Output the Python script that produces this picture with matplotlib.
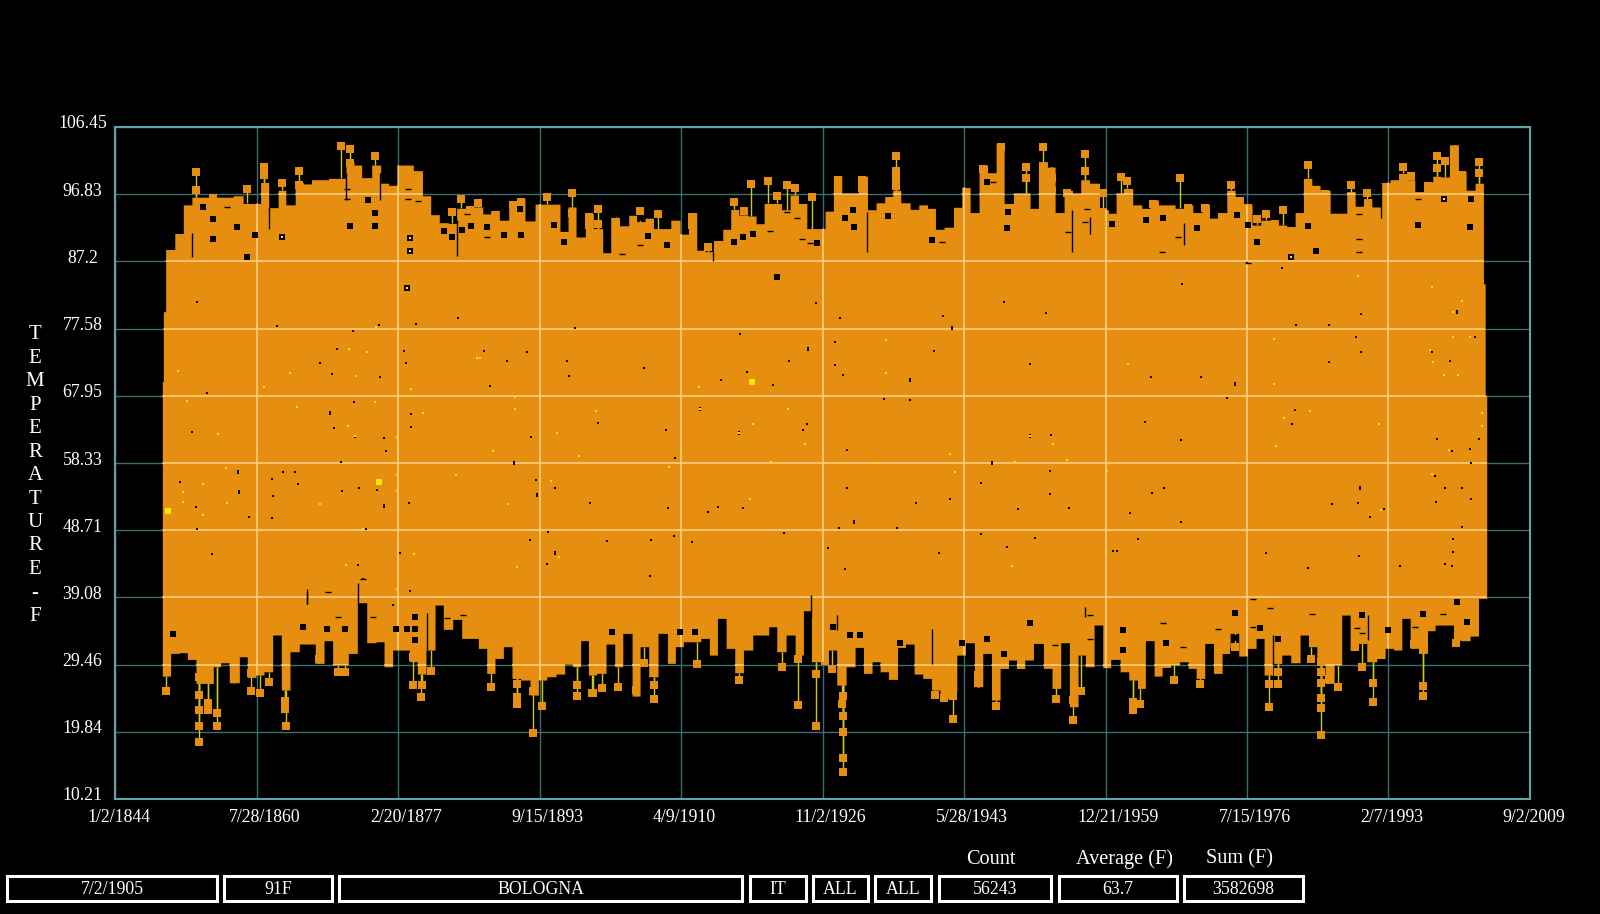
###Bologna daily temperature record, black screen style
import numpy as np
import matplotlib
matplotlib.use("Agg")
import matplotlib.pyplot as plt
from matplotlib.patches import Rectangle
from matplotlib.transforms import ScaledTranslation

plt.rcParams['font.family']=['Liberation Serif','DejaVu Serif']

x_ticks=[1844.0,1860.57,1877.14,1893.71,1910.27,1926.84,1943.4,1959.97,1976.54,1993.1,2009.67]
x_labels=["1/2/1844","7/28/1860","2/20/1877","9/15/1893","4/9/1910","11/2/1926","5/28/1943","12/21/1959","7/15/1976","2/7/1993","9/2/2009"]
y_ticks=[10.21,19.84,29.46,39.08,48.71,58.33,67.95,77.58,87.2,96.83,106.45]
y_labels=["10.21","19.84","29.46","39.08","48.71","58.33","67.95","77.58","87.2","96.83","106.45"]

#top edge of the orange band, each value holds until the next year
upper_years=[1849.54,1849.66,1849.93,1851.0,1852.0,1853.0,1854.9,1856.1,1857.85,1859.0,1861.05,1862.0,1863.1,1864.0,1865.1,1866.05,1867.0,1869.0,1871.05,1871.98,1872.88,1874.05,1875.1,1876.04,1877.06,1878.93,1880.0,1880.96,1881.97,1883.03,1884.0,1885.02,1887.05,1887.98,1889.0,1890.1,1891.03,1892.0,1893.18,1895.0,1896.1,1897.04,1897.98,1899.07,1900.01,1901.1,1902.04,1903.06,1904.15,1905.09,1906.06,1907.04,1909.07,1910.16,1911.14,1912.11,1913.09,1914.06,1915.16,1916.09,1917.03,1918.16,1919.06,1920.0,1922.03,1923.04,1924.02,1925.0,1927.14,1928.11,1929.09,1931.04,1932.1,1933.11,1934.12,1935.06,1936.0,1937.09,1938.11,1939.12,1940.06,1941.07,1942.17,1943.14,1944.12,1945.17,1946.15,1947.16,1948.1,1949.19,1951.14,1952.12,1953.17,1954.07,1955.12,1956.1,1957.07,1958.09,1959.26,1960.31,1961.21,1962.07,1963.16,1964.21,1965.19,1966.17,1968.12,1969.17,1970.19,1971.24,1972.14,1973.07,1974.17,1975.14,1976.12,1977.13,1978.15,1979.24,1980.22,1981.19,1982.17,1983.14,1984.12,1985.09,1986.27,1988.22,1989.2,1990.17,1991.15,1992.2,1993.29,1994.27,1995.24,1996.18,1997.2,1998.29,1999.23,2000.24,2001.29,2002.19,2003.24,2004.22,2004.42]
upper_temp=[70,80,88.9,91.2,95.3,96.4,96.4,96.4,96.6,95.5,98.5,94.9,97.4,95.3,98.5,98.3,98.9,99.1,101.5,101.0,99.2,101.0,98.4,98.1,101.0,100.2,96.6,93.9,92.75,92.65,94.8,95.0,94.0,94.5,93.1,95.9,96.2,93.0,95.4,95.4,91.5,95.0,90.7,94.0,91.9,88.45,93.5,92.3,93.8,92.9,93.4,91.9,93.1,91.1,94.2,88.8,88.6,90.2,91.8,94.65,93.85,93.7,92.6,95.5,94.6,96.7,95.5,91.9,94.4,99.4,96.95,99.4,94.6,95.6,96.5,97.4,95.6,94.65,95.3,94.8,91.8,92.1,94.95,97.8,94.2,101.0,99.9,104.1,95.5,96.95,94.8,101.5,100.7,94.2,97.4,96.95,98.9,98.4,94.6,94.1,96.95,97.65,95.3,94.8,96.0,95.3,94.8,95.3,94.2,95.4,93.4,94.2,97.4,96.5,95.3,92.4,93.1,93.2,92.4,92.2,94.2,99.1,98.1,97.4,94.1,97.2,95.1,96.2,95.0,98.5,98.9,99.8,98.9,97.2,98.6,99.4,99.3,103.9,100.05,97.4,98.4,84,68]

#bottom edge of the band
lower_years=[1849.54,1850.51,1851.53,1852.47,1853.48,1854.42,1855.51,1856.37,1857.38,1858.56,1859.49,1860.51,1861.44,1862.46,1863.47,1864.49,1865.58,1867.45,1868.47,1869.48,1871.32,1872.37,1873.47,1874.56,1875.5,1876.51,1878.46,1879.4,1880.41,1881.47,1882.44,1883.54,1884.59,1886.54,1887.52,1888.49,1889.47,1890.48,1891.5,1892.59,1893.57,1894.54,1895.64,1896.65,1897.59,1898.52,1899.43,1900.4,1901.49,1902.51,1903.45,1904.54,1905.48,1906.49,1907.58,1908.68,1909.61,1910.55,1912.58,1913.59,1914.53,1915.55,1916.56,1917.58,1918.67,1920.54,1921.48,1922.57,1923.63,1924.6,1925.54,1927.53,1928.5,1929.6,1930.65,1931.63,1932.64,1933.58,1934.55,1935.61,1936.55,1937.56,1938.57,1939.59,1940.6,1941.58,1942.56,1943.57,1944.62,1945.6,1946.62,1947.63,1948.61,1949.58,1950.52,1951.53,1952.7,1953.71,1954.73,1955.74,1956.76,1957.62,1958.63,1959.65,1960.58,1961.68,1962.69,1963.71,1964.64,1965.66,1966.6,1967.61,1968.63,1969.64,1970.58,1971.59,1972.61,1973.62,1974.56,1975.57,1976.59,1977.6,1978.54,1979.55,1980.61,1981.66,1982.75,1983.73,1984.71,1985.68,1986.74,1987.63,1988.61,1989.59,1990.56,1991.73,1992.71,1993.68,1994.66,1995.64,1996.61,1997.67,1998.56,2000.71,2001.57,2002.66,2003.64]
lower_temp=[27.81,31.06,31.16,30.2,26.76,26.76,29.15,29.72,26.86,30.58,27.62,27.96,28.43,33.69,25.81,31.3,32.4,29.63,32.88,29.39,31.06,38.32,32.59,32.73,29.15,31.54,29.87,28.1,31.54,37.99,34.5,35.93,33.21,31.78,28.2,30.34,32.02,27.48,27.24,25.09,27.24,27.72,28.1,29.53,29.15,32.88,27.96,28.2,32.4,29.15,33.93,24.95,32.02,27.72,33.93,29.63,32.02,32.73,33.21,30.82,36.08,31.78,28.29,31.54,33.69,34.88,31.3,33.69,30.82,37.17,29.87,31.54,26.52,29.15,31.92,28.2,29.87,28.43,27.34,31.92,32.4,28.1,27.48,25.81,24.61,25.57,30.82,32.59,26.29,31.06,24.38,28.91,30.11,28.91,30.11,32.49,28.91,26.05,32.59,23.42,30.82,29.15,35.12,29.01,30.2,28.43,27.24,26.05,32.88,27.81,29.05,29.39,29.87,28.91,27.48,32.49,28.2,31.92,33.93,30.68,31.78,33.21,27.96,29.63,30.82,29.72,33.69,32.02,29.63,26.76,29.39,36.55,31.54,32.49,29.87,30.34,31.78,31.54,36.08,31.78,31.06,34.31,35.12,32.97,32.88,33.54,38.94]
band_end=2004.6

#isolated daily highs above the band
high_years=[1853.48,1853.48,1855.51,1855.51,1859.49,1861.48,1861.48,1863.51,1865.5,1865.5,1870.5,1871.51,1871.51,1874.48,1884.51,1883.46,1886.54,1885.57,1894.54,1897.51,1897.51,1899.54,1891.5,1890.56,1899.5,1899.5,1900.6,1900.6,1902.63,1905.5,1907.54,1911.56,1911.56,1913.48,1916.48,1917.65,1918.51,1920.5,1922.65,1923.59,1921.56,1925.62,1928.66,1931.51,1931.51,1935.49,1935.49,1935.49,1935.49,1945.68,1947.71,1950.64,1950.64,1952.7,1953.56,1953.72,1953.72,1955.51,1957.58,1957.58,1961.76,1962.54,1959.65,1959.65,1965.58,1968.7,1969.6,1971.63,1974.64,1976.7,1977.68,1978.73,1979.75,1980.72,1983.65,1985.68,1988.69,1990.64,1994.78,1995.71,1997.7,1998.76,1998.76,1999.73,2000.79,2001.68,2003.75,2003.75]
high_temp=[99.96,97.4,96.25,95.04,97.5,100.77,99.58,98.4,100.15,98.15,103.73,103.25,101.25,102.3,96.09,94.28,95.6,94.56,96.47,96.95,94.08,93.04,95.76,95.28,93.51,92.42,94.75,92.56,92.89,94.42,93.94,93.61,92.42,89.21,95.71,94.42,98.24,98.67,98.19,97.72,96.57,96.38,98.86,98.86,97.67,102.3,100.15,99.1,98.0,100.44,103.64,100.77,99.1,103.64,100.05,99.2,97.33,96.95,102.54,100.15,99.34,98.72,96.95,94.33,95.42,99.2,94.8,94.9,98.19,94.8,93.28,93.94,92.18,94.56,101.0,96.86,98.19,96.95,100.77,99.48,98.0,102.35,100.53,101.63,103.16,99.58,101.49,99.8]

#isolated daily lows below the band
low_years=[1850.01,1853.87,1853.87,1853.87,1853.87,1853.87,1854.93,1854.93,1855.9,1855.9,1857.97,1859.92,1859.92,1860.98,1862.03,1863.94,1863.94,1864.06,1867.92,1870.11,1870.93,1878.93,1878.93,1879.91,1879.83,1881.04,1888.02,1891.11,1891.11,1891.11,1892.98,1892.98,1894.03,1898.06,1898.06,1899.93,1899.89,1900.99,1902.86,1905.01,1907.12,1907.12,1905.94,1912.11,1917.03,1922.1,1924.02,1924.02,1926.12,1926.12,1928.0,1927.14,1929.21,1929.21,1929.21,1929.21,1929.21,1929.13,1940.06,1942.09,1942.09,1941.11,1945.09,1945.09,1947.12,1950.09,1954.22,1956.22,1956.22,1957.07,1963.16,1963.16,1964.02,1968.0,1971.08,1973.15,1974.05,1975.1,1979.09,1979.09,1979.09,1980.14,1980.14,1984.08,1985.18,1985.18,1985.18,1985.18,1985.18,1985.18,1986.19,1987.17,1990.05,1991.26,1991.26,1991.26,1989.16,1992.2,1996.1,1997.2,1997.2,1997.2,2001.06]
low_temp=[25.62,27.72,25.09,22.94,20.65,18.41,23.9,22.94,22.47,20.65,27.48,28.29,25.62,25.43,26.95,24.28,23.04,20.65,30.2,28.39,28.39,30.49,26.57,26.57,24.8,28.58,26.29,26.67,24.76,23.8,25.71,19.7,23.52,26.52,24.95,25.33,25.33,26.05,26.29,25.81,24.47,26.57,29.72,29.49,27.24,29.05,23.66,30.25,20.65,28.05,28.77,30.01,24.95,22.13,19.84,16.11,14.11,23.8,25.14,24.95,21.65,24.66,27.96,26.76,23.52,29.39,24.47,21.51,24.38,25.66,24.14,22.94,23.8,27.24,26.62,28.91,31.54,32.02,28.58,26.62,23.32,28.43,26.62,30.2,29.87,28.43,26.76,24.61,23.28,19.36,27.34,26.29,29.05,31.54,26.86,24.14,32.02,30.82,32.35,31.78,26.43,24.95,32.49]

#missing days inside the band
gap_years=[1887.21,1892.28,1889.86,1896.97,1897.2,1887.87,1897.9,1905.94,1917.18,1926.05,1928.93,1940.99,1928.27,1939.9,1922.92,1928.27,1929.25,1917.97,1914.92,1921.09,1934.09,1937.09,1900.52,1892.67,1908.52,1909.61,1924.56,1925.07,1929.75,1893.34,1895.48,1899.62,1908.75,1913.44,1914.57,1917.57,1929.75,1937.75,1941.78,1945.41,1894.7,1892.59,1901.65,1906.76,1909.42,1911.56,1922.38,1928.82,1935.53,1927.49,1929.48,1940.45,1894.55,1906.61,1945.41,1953.02,1951.14,1965.35,1971.2,1974.25,1982.33,1986.19,1989.94,1989.28,1989.94,1986.08,2003.25,1998.18,2000.25,1982.1,1981.78,1964.61,1968.82,1953.64,1998.8,2003.68,2002.67,2000.52,2002.78,1953.45,1953.45,1955.71,1949.7,1965.47,1966.8,1962.81,1968.82,1989.55,1986.47,1992.63,1990.88,1999.66,2001.65,2002.74,1998.64,2001.65,1998.53,1951.69,1948.49,1960.82,1961.37,1963.75,1978.74,1983.66,1989.67,1994.47,2000.64,2000.6,1999.74,2000.56,1948.1,1853.56,1862.93,1871.83,1874.95,1879.24,1884.12,1870.03,1877.84,1868.0,1878.07,1875.03,1869.45,1854.81,1871.98,1880.02,1878.66,1878.66,1869.64,1852.97,1875.5,1872.06,1875.73,1851.61,1865.42,1872.53,1870.54,1862.46,1853.48,1878.46,1859.65,1862.34,1853.56,1873.39,1855.32,1863.63,1865.07,1874.64,1870.42,1862.34,1872.49,1873.07,1878.54,1876.59,1877.37,1968.9,1976.51,1980.61]
gap_temp=[74.4,74.26,72.98,72.98,70.83,69.35,77.7,71.88,76.8,81.19,79.04,79.38,75.7,74.4,72.88,72.35,70.97,71.4,70.25,69.49,67.48,67.34,64.0,62.09,63.0,59.03,63.04,63.85,60.18,55.88,54.78,52.63,51.92,51.34,52.06,51.82,54.69,52.63,53.2,55.4,48.43,47.28,47.19,47.33,47.86,47.04,48.33,49.0,48.95,46.09,43.08,45.37,43.8,42.13,48.14,79.76,72.5,70.59,70.59,67.63,78.09,78.09,79.66,76.41,74.27,72.78,76.32,74.22,72.88,65.86,63.98,64.19,61.56,62.37,61.75,61.75,60.27,60.08,58.31,57.12,53.83,51.82,51.68,53.97,54.69,51.1,49.86,52.63,52.39,51.77,50.63,54.69,54.69,53.16,52.68,49.15,56.45,47.62,46.33,45.75,45.75,47.38,45.37,43.27,45.04,43.51,45.52,47.38,43.8,43.6,81.33,81.38,77.99,77.23,78.09,78.18,79.14,74.6,74.36,72.69,72.6,70.69,71.07,68.39,67.1,65.43,65.39,63.52,63.28,62.71,61.85,62.0,60.08,55.64,55.36,54.69,54.31,53.64,51.97,52.54,50.63,50.44,48.81,48.91,45.23,57.08,57.08,54.45,58.41,56.03,43.66,41.65,40.03,37.97,45.38,83.91,87.02,86.2]

#short dashes in the rough top and bottom of the band
dash_years=[1871.12,1871.12,1878.35,1878.35,1879.5,1857.07,1885.18,1887.52,1903.33,1905.48,1920.7,1922.65,1923.82,1924.41,1925.38,1946.85,1955.63,1940.8,1957.77,1957.58,1968.5,1966.56,1976.7,1989.7,1989.7,1989.7,1996.6,1873.07,1868.98,1882.83,1884.78,1873.07,1874.25,1870.15,1954.07,1958.16,1958.16,1966.75,1969.09,1973.19,1979.24,1977.29,1977.29,1984.12,1999.54,1989.39,1989.98,1996.22]
dash_temp=[97.52,96.09,96.09,97.52,95.9,95.04,94.0,90.74,88.26,89.55,91.56,94.23,93.47,90.36,89.79,98.62,91.46,90.03,94.7,92.8,90.74,88.59,87.02,90.36,88.59,94.0,96.1,41.7,39.9,36.2,36.55,36.3,36.3,36.3,32.25,36.55,33.1,35.36,32.02,34.5,37.5,38.85,34.9,36.65,36.7,34.64,33.93,34.9]

#wider runs of missing days
block_years=[1855.51,1860.39,1863.51,1858.24,1855.51,1859.49,1874.44,1874.44,1878.54,1878.54,1878.15,1871.51,1873.66,1854.34,1883.42,1891.5,1889.55,1896.57,1884.59,1885.68,1882.52,1887.52,1891.42,1895.4,1908.6,1929.48,1930.45,1930.53,1934.55,1948.41,1946.15,1921.48,1916.48,1917.58,1918.75,1906.45,1939.63,1926.16,1905.48,1948.6,1960.7,1964.68,1966.75,1970.66,1975.34,1976.7,1977.68,1981.66,1984.63,1983.65,2002.66,2002.74,1996.61,1999.62,1930.53,1937.09,1893.45,1942.05,1890.68,1917.11,1912.5,1946.65,1925.15,1895.52,1975.11,2001.18,1951.1,1989.71,1858.44,1858.48,1875.5,1869.17,1850.83,1865.97,1876.9,1878.15,1879.13,1879.13,1879.13,1868.78,1870.93,1902.16,1910.16,1911.92,1930.07,1931.24,1928.11,1935.92,1943.14,1946.07,1951.14,1948.1,1962.07,1962.07,1967.06,1975.14,1975.14,1978.07,1980.22,1989.98,2001.1,2002.27,1997.2,1993.1]
block_temp=[90.36,91.0,90.74,92.08,93.27,87.78,94.18,92.27,90.55,88.64,83.34,92.27,96.0,95.04,90.65,90.93,90.93,89.93,91.7,92.27,91.5,92.2,94.66,92.41,89.55,93.47,94.56,92.17,93.7,91.94,98.62,85.01,89.93,90.74,91.13,90.84,90.27,89.88,93.47,94.33,92.56,93.13,93.37,91.94,93.85,92.42,89.93,87.78,88.74,92.27,92.08,96.09,92.42,96.14,49.91,70.2,53.73,77.6,58.27,62.66,66.0,58.36,74.65,45.37,69.68,79.9,62.23,54.73,56.98,54.12,52.16,65.43,33.9,34.9,34.6,34.6,36.3,34.6,33.0,34.6,34.6,34.17,34.17,34.17,33.69,33.69,34.79,32.6,32.6,33.07,35.45,30.92,34.4,31.54,32.6,36.8,33.2,34.64,33.07,36.55,38.46,35.6,36.65,34.4]

#long thin gaps: year, warm end, cold end
slit_years=[1871.05,1875.03,1862.03,1884.0,1853.0,1932.1,1914.06,1956.1,1969.17,1992.2,1958.16,1872.49,1880.49,1866.44,1925.54,1928.5,1939.63,1957.58,1979.63,1990.75,1866.44]
slit_high=[99.8,99.8,94.95,93.1,91.2,94.3,88.6,94.6,92.65,98.5,93.6,41.09,36.8,39.9,39.4,36.55,34.6,37.75,33.7,36.55,40.3]
slit_low=[96.0,96.0,91.8,88.0,87.9,88.6,87.2,88.6,89.55,93.4,91.1,38.2,31.5,38.2,36.3,34.4,29.6,36.3,29.6,33.0,38.2]

#yellow days left showing through the gaps
yellow_years=[1918.59,1912.42,1890.8,1890.8,1900.32,1895.8,1888.3,1898.29,1908.83,1920.78,1924.8,1941.77,1918.75,1922.81,1934.28,1895.01,1890.06,1918.36,1891.03,1896.03,1934.28,1933.27,1886.74,1942.36,1962.66,1979.71,2000.64,2001.73,2000.6,2002.63,1979.64,1999.62,2001.26,1997.98,1998.37,1983.93,1980.85,1991.97,1979.91,1951.1,1953.87,1955.44,1949.43,1960.12,1998.18,2000.17,1992.24,1949.0,2004.03,2004.03,1874.56,1873.46,1871.4,1872.22,1864.49,1851.41,1861.44,1878.62,1852.47,1874.48,1865.27,1880.02,1876.98,1871.28,1872.14,1856.1,1857.0,1876.98,1876.98,1851.92,1851.92,1854.26,1854.26,1857.07,1868.0,1873.0,1879.01,1871.0,1876.98,1883.92,1886.34,1863.51,1878.54,1878.54,1878.15,1981.66,1989.59,1998.17,1999.62,1917.11,1912.5]
yellow_temp=[67.96,69.25,67.82,66.0,65.76,62.56,60.08,59.37,57.79,58.46,61.04,59.6,63.95,66.05,75.89,55.78,52.39,53.2,43.4,44.9,71.26,58.36,73.3,56.98,72.55,76.03,79.9,81.57,76.32,76.32,69.59,70.97,70.92,74.5,72.74,65.76,64.76,63.95,60.7,62.23,60.99,58.7,58.5,57.12,56.69,60.13,51.58,43.56,65.43,63.66,77.85,74.27,74.6,70.78,71.16,71.55,69.25,68.87,67.25,67.06,66.29,65.43,62.0,63.62,62.19,62.42,57.55,56.6,54.31,54.21,52.68,55.26,50.87,52.54,52.44,48.91,45.28,43.66,40.22,56.65,73.31,90.74,90.55,88.64,83.34,87.78,85.11,83.48,96.14,62.66,66.0]
yellow_big_years=[1918.59,1874.95,1850.16]
yellow_big_temp=[70.0,55.55,51.49]

#row of read out boxes under the chart
box_texts=["7/2/1905","91F","BOLOGNA","IT","ALL","ALL","56243","63.7","3582698"]
box_left=[7,224,339,750,812.5,875,938.5,1058.5,1184]
box_right=[217,332,742,805.5,868,931,1051,1176.5,1302.5]
head_texts=["Count","Average (F)","Sum (F)"]
head_x=[991,1125,1240]

W,H=1600,914
ORANGE='#E68E10'
fig=plt.figure(figsize=(W/100,H/100),dpi=100,facecolor='black')
ax=fig.add_axes([115/W,1-799/H,(1530-115)/W,(799-127)/H],facecolor='black')
ax.set_xlim(1844,2009.67)
ax.set_ylim(10.21,106.45)

def step_value(years,temps,x):
    i=np.searchsorted(years,x,side='right')-1
    return np.asarray(temps)[np.clip(i,0,len(temps)-1)]

#stems first so that the band and the squares sit on top
ax.vlines(high_years,high_temp,step_value(upper_years,upper_temp,high_years),color='#C8C81E',lw=1.0,zorder=2)
ax.vlines(low_years,low_temp,step_value(lower_years,lower_temp,low_years),color='#C8C81E',lw=1.0,zorder=2)

xs=np.union1d(np.union1d(upper_years,lower_years),[band_end])
body=ax.fill_between(xs,step_value(lower_years,lower_temp,xs),step_value(upper_years,upper_temp,xs),step='post',color=ORANGE,lw=0,zorder=3)

ax.plot(high_years,high_temp,'s',color=ORANGE,ms=6.1,mew=0,zorder=4)
ax.plot(low_years,low_temp,'s',color=ORANGE,ms=6.1,mew=0,zorder=4)

#grid: dim teal on black, pale where it crosses the band
ax.set_xticks(x_ticks,x_labels)
ax.set_yticks(y_ticks,y_labels)
for t in x_ticks:
    ax.axvline(t,color='#3F6E70',lw=1.0,zorder=1)
    l=ax.axvline(t,color='#FFD38A',lw=1.1,zorder=5)
    l.set_clip_path(body.get_paths()[0],body.get_transform())
for t in y_ticks:
    ax.axhline(t,color='#3F6E70',lw=1.0,zorder=1)
    l=ax.axhline(t,color='#FFD38A',lw=1.1,zorder=5)
    l.set_clip_path(body.get_paths()[0],body.get_transform())

ax.vlines(slit_years,slit_low,slit_high,color='black',lw=1.0,zorder=6)
ax.plot(gap_years,gap_temp,'s',color='black',ms=1.7,mew=0,zorder=6)
ax.plot(dash_years,dash_temp,'_',color='black',ms=4.5,mew=1.0,zorder=6)

#blocks are wide in the rough edges of the band, tall and thin in the middle
block_t=np.array(block_temp)
block_y=np.array(block_years)
rough=(block_t>80)|(block_t<40)
tall=[(-0.5,-1),(0.5,-1),(0.5,1),(-0.5,1)]
ax.plot(block_y[rough],block_t[rough],marker='s',ls='none',color='black',ms=4.6,mew=0,zorder=6)
ax.plot(block_y[~rough],block_t[~rough],marker=tall,ls='none',color='black',ms=3.0,mew=0,zorder=6)

ax.plot(yellow_years,yellow_temp,'s',color='#FFE800',ms=1.7,mew=0,zorder=7)
ax.plot(yellow_big_years,yellow_big_temp,'s',color='#FFE800',ms=4.0,mew=0,zorder=7)

for s in ax.spines.values():
    s.set_color('#5FA5A8')
    s.set_linewidth(1.5)
    s.set_zorder(8)

ax.tick_params(axis='both',length=0,colors='white',labelsize=12.8)
ax.tick_params(axis='x',pad=7.5)
ax.tick_params(axis='y',pad=23.5)
for lab in ax.get_xticklabels():
    lab.set_ha('left')
    lab.set_transform(lab.get_transform()+ScaledTranslation(-28/100,0,fig.dpi_scale_trans))
for lab in ax.get_yticklabels():
    lab.set_ha('center')
    lab.set_transform(lab.get_transform()+ScaledTranslation(0,5/100,fig.dpi_scale_trans))

#vertical axis title, one letter under the other
for i,ch in enumerate("TEMPERATURE-F"):
    fig.text(35/W,1-(334.5+23.5*i)/H,ch,color='white',fontsize=15,ha='center',va='center')

for left,right,txt in zip(box_left,box_right,box_texts):
    fig.add_artist(Rectangle((left/W,1-901/H),(right-left)/W,(901-876)/H,transform=fig.transFigure,fill=False,ec='white',lw=2.2))
    fig.text((left+right)/2/W,1-890/H,txt,color='white',fontsize=12.8,ha='center',va='center')
for x,head in zip(head_x,head_texts):
    fig.text(x/W,1-859/H,head,color='white',fontsize=14.6,ha='center',va='center')

fig.savefig("out.png",dpi=100,facecolor='black')
